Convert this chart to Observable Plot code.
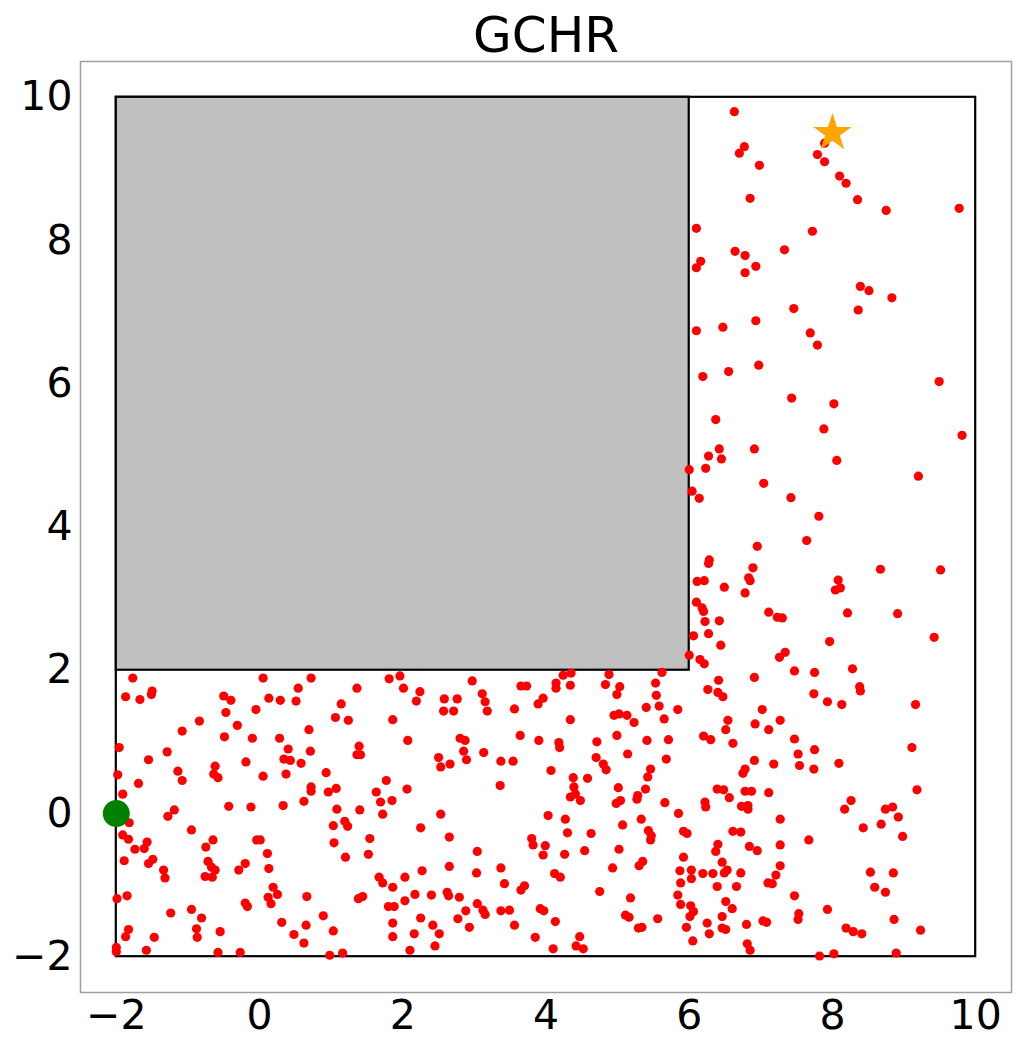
<!DOCTYPE html>
<html>
<head>
<meta charset="utf-8">
<script src="https://cdn.jsdelivr.net/npm/d3@7"></script>
<script src="https://cdn.jsdelivr.net/npm/@observablehq/plot@0.6"></script>
<style>
  html, body { margin: 0; padding: 0; background: white; }
</style>
</head>
<body>
<div id="chart"></div>
<script>
const title = "GCHR";
const tickValues = [-2, 0, 2, 4, 6, 8, 10];
const bounds = [{x1: -2, x2: 10, y1: -2, y2: 10}];
const obstacle = [{x1: -2, x2: 6, y1: 2, y2: 10}];
const start = [{x: -2, y: 0}];
const goal = [{x: 8, y: 9.5}];

const sampleX = [
  6.63,6.77,6.70,6.98,7.89,7.79,7.89,8.10,8.19,8.35,
  8.75,9.77,6.85,6.10,7.72,6.64,6.78,7.33,6.16,6.10,
  6.93,6.78,8.39,8.51,8.83,7.46,8.36,6.10,6.47,6.93,
  7.69,7.79,6.19,6.55,6.97,9.49,
  7.43,8.02,6.37,7.88,9.81,6.42,6.91,6.27,6.45,8.06,
  6.00,6.23,7.04,9.20,6.04,6.14,7.42,7.81,7.64,6.95,
  6.28,6.27,6.89,8.67,9.51,6.11,6.21,6.83,6.85,6.49,
  8.08,8.11,8.04,6.78,6.10,6.18,6.20,7.11,7.23,7.30,
  8.21,8.91,6.22,6.42,6.06,6.27,9.42,6.44,7.96,6.00,
  6.15,6.21,7.34,7.26,7.47,7.75,8.28,
  -1.77,0.05,0.72,0.54,-1.87,-1.67,-1.50,-1.51,-0.50,-0.40,
  0.13,0.29,0.51,-0.05,-0.47,-0.84,-0.31,-1.08,0.69,-0.49,
  -0.10,0.28,-1.96,0.40,-1.29,0.71,-1.55,0.34,0.43,0.58,
  -0.19,-0.62,-1.14,-1.98,-0.64,-0.58,-1.08,0.05,0.37,0.93,
  -1.69,0.72,0.72,0.96,1.07,-1.91,0.62,-0.43,-0.12,0.33,
  -1.19,-1.28,1.08,
  -1.82,-1.91,-1.83,-1.74,-1.61,-1.57,-1.89,-1.55,-1.49,-1.34,
  -1.32,-0.95,-0.65,-0.75,-0.72,-0.67,-0.62,-0.76,-0.66,-0.04,
  0.01,0.11,-0.20,-0.29,0.13,1.03,1.04,-1.99,-1.85,0.19,
  0.25,0.12,0.16,0.66,-0.20,-0.17,-1.24,-0.95,-0.81,0.89,
  0.31,0.65,-1.83,-1.87,-1.47,-0.88,-0.87,-0.55,0.48,0.62,
  1.03,-2.00,-2.00,-1.58,-0.58,-0.27,0.98,
  1.81,1.96,2.01,1.36,2.24,2.19,1.14,1.06,1.24,1.86,
  2.97,3.65,3.73,3.11,3.15,3.18,2.58,2.76,2.57,2.71,
  3.56,3.89,3.96,2.07,1.39,1.36,1.41,2.80,2.87,2.85,
  2.89,3.13,2.50,2.53,2.66,3.37,3.54,3.64,3.90,4.07,
  1.77,1.63,1.69,1.85,2.06,3.36,1.40,1.72,2.53,4.03,
  1.19,1.23,1.54,1.52,1.20,2.25,2.65,3.04,3.80,3.82,
  3.99,3.96,2.65,2.27,3.03,3.37,3.42,4.12,1.67,1.72,
  1.86,2.03,1.38,1.44,2.17,2.40,2.03,2.62,2.64,2.79,
  3.70,3.65,1.80,1.88,3.04,3.12,3.15,2.88,2.77,2.93,
  2.25,2.42,2.51,2.45,2.16,2.10,1.86,1.86,3.37,3.49,
  3.56,3.92,3.97,3.85,4.13,4.10,1.16,
  4.24,4.35,4.14,4.14,4.34,4.88,4.83,5.03,4.99,5.62,
  5.53,5.54,5.40,5.58,5.84,5.65,4.34,4.95,5.02,5.13,
  5.23,4.99,5.41,5.71,4.71,4.18,4.19,5.14,4.70,4.80,
  4.84,5.68,5.46,5.42,4.38,4.58,4.39,4.41,4.34,4.48,
  5.01,5.39,5.28,5.27,5.04,4.98,5.66,5.85,6.26,6.41,
  6.40,6.47,6.91,6.54,6.51,6.92,7.02,7.11,6.20,6.30,
  6.61,6.91,6.78,6.75,7.18,6.39,6.48,6.56,6.78,6.87,
  7.11,6.22,6.23,6.73,6.82,6.82,
  8.38,8.39,7.74,7.93,8.13,9.16,7.27,7.47,7.75,7.52,
  7.54,7.74,8.09,9.11,9.18,8.26,8.17,8.74,8.84,8.92,
  7.27,8.43,8.68,8.98,7.27,7.67,7.27,7.21,7.10,7.16,
  8.53,8.85,8.59,8.74,7.47,7.93,7.53,7.52,7.08,8.86,
  9.23,8.19,8.29,8.41,7.82,8.02,8.89,
  4.27,4.30,4.63,5.07,5.33,5.43,5.47,5.46,4.26,4.54,
  5.02,5.35,5.30,4.93,4.20,4.75,5.18,5.11,5.16,5.56,
  5.29,5.34,4.47,4.42,4.52,5.92,5.97,5.92,5.87,6.03,
  6.03,5.88,6.19,6.33,6.40,6.37,6.46,6.53,6.49,6.72,
  6.61,6.72,6.84,6.95,6.39,6.66,5.84,5.88,6.02,6.06,
  6.01,6.51,6.60,6.46,6.25,5.96,6.46,6.51,6.28,6.05,
  6.80,7.03,6.81,6.85
];

const sampleY = [
  9.80,9.31,9.22,9.05,9.36,9.20,9.10,8.90,8.80,8.57,
  8.42,8.45,8.59,8.17,8.13,7.85,7.79,7.87,7.71,7.62,
  7.64,7.55,7.36,7.30,7.20,7.05,7.03,6.74,6.79,6.88,
  6.71,6.54,6.10,6.17,6.26,6.03,
  5.80,5.72,5.50,5.37,5.28,5.09,5.09,4.99,4.95,4.93,
  4.80,4.82,4.61,4.71,4.50,4.40,4.41,4.15,3.81,3.73,
  3.54,3.49,3.43,3.41,3.40,3.24,3.25,3.29,3.25,3.16,
  3.26,3.15,3.12,3.08,2.95,2.87,2.82,2.81,2.74,2.73,
  2.80,2.79,2.68,2.69,2.48,2.51,2.46,2.35,2.40,2.21,
  2.15,2.09,2.25,2.18,1.99,1.97,2.02,
  1.89,1.89,1.89,1.75,1.63,1.59,1.71,1.66,1.64,1.58,
  1.61,1.58,1.57,1.45,1.41,1.29,1.23,1.15,1.17,1.07,
  1.05,1.05,0.92,0.90,0.86,0.87,0.75,0.76,0.74,0.70,
  0.72,0.66,0.59,0.54,0.55,0.50,0.46,0.52,0.55,0.57,
  0.42,0.37,0.31,0.30,0.35,0.27,0.17,0.10,0.09,0.11,
  0.05,-0.04,0.06,
  -0.13,-0.30,-0.36,-0.50,-0.49,-0.40,-0.66,-0.70,-0.64,-0.79,
  -0.90,-0.23,-0.37,-0.47,-0.67,-0.75,-0.79,-0.88,-0.89,-0.37,
  -0.37,-0.56,-0.70,-0.79,-0.77,-0.17,-0.41,-1.19,-1.15,-1.03,
  -1.13,-1.17,-1.26,-1.16,-1.25,-1.30,-1.39,-1.34,-1.46,-1.43,
  -1.52,-1.56,-1.62,-1.72,-1.73,-1.61,-1.73,-1.65,-1.69,-1.81,
  -1.64,-1.87,-1.93,-1.91,-1.94,-1.94,-1.98,
  1.88,1.92,1.75,1.75,1.70,1.57,1.53,1.34,1.30,1.31,
  1.85,1.78,1.78,1.67,1.56,1.43,1.60,1.60,1.43,1.43,
  1.46,1.53,1.61,1.02,0.94,0.82,0.82,1.05,1.02,0.87,
  0.75,0.85,0.78,0.65,0.69,0.73,0.73,1.09,1.02,0.60,
  0.46,0.30,0.16,0.18,0.34,0.39,0.05,-0.01,-0.01,-0.03,
  -0.11,-0.18,-0.35,-0.57,-0.61,-0.20,-0.33,-0.53,-0.35,-0.44,
  -0.45,-0.58,-0.74,-0.80,-0.83,-0.76,-0.98,-0.84,-0.89,-0.97,
  -1.03,-0.89,-1.19,-1.16,-1.13,-1.14,-1.22,-1.10,-1.15,-1.17,
  -1.01,-1.07,-1.30,-1.30,-1.26,-1.35,-1.41,-1.36,-1.47,-1.59,
  -1.46,-1.56,-1.68,-1.85,-1.68,-1.91,-1.53,-1.72,-1.36,-1.35,
  -1.56,-1.33,-1.36,-1.73,-1.51,-1.89,-1.95,
  1.93,1.96,1.82,1.75,1.79,1.94,1.80,1.77,1.66,1.97,
  1.82,1.65,1.48,1.50,1.45,1.32,1.31,1.37,1.39,1.37,
  1.27,1.09,1.02,1.03,1.00,0.99,0.92,0.83,0.78,0.69,
  0.61,0.76,0.62,0.51,0.50,0.49,0.37,0.27,0.23,0.18,
  0.36,0.34,0.25,0.20,0.18,0.14,0.15,0.00,1.73,1.86,
  1.69,1.63,1.90,1.30,1.17,1.25,1.45,1.17,1.08,1.03,
  0.98,0.74,0.62,0.56,0.69,0.34,0.33,0.22,0.31,0.31,
  0.29,0.16,0.09,0.10,0.11,0.06,
  1.77,1.71,1.67,1.56,1.52,1.52,1.30,1.04,0.89,0.83,
  0.67,0.62,0.70,0.92,0.33,0.18,0.06,0.06,0.09,-0.05,
  -0.08,-0.20,-0.15,-0.32,-0.44,-0.37,-0.73,-0.86,-0.97,-0.98,
  -0.82,-0.83,-1.03,-1.10,-1.15,-1.34,-1.40,-1.48,-1.52,-1.48,
  -1.63,-1.60,-1.65,-1.68,-1.99,-1.96,-1.95,
  -0.08,-0.27,-0.28,-0.16,-0.08,-0.24,-0.31,-0.37,-0.57,-0.52,
  -0.50,-0.67,-0.73,-0.76,-0.89,-1.09,-1.18,-1.42,-1.45,-1.47,
  -1.60,-1.59,-1.72,-1.85,-1.89,-0.25,-0.28,-0.61,-0.80,-0.79,
  -0.91,-0.97,-0.84,-0.84,-0.43,-0.53,-0.68,-0.79,-0.83,-0.83,
  -0.25,-0.26,-0.46,-0.52,-1.02,-1.02,-1.14,-1.27,-1.29,-1.37,
  -1.44,-1.23,-1.33,-1.44,-1.53,-1.59,-1.60,-1.62,-1.68,-1.78,
  -1.55,-1.50,-1.82,-1.91
];

const samples = sampleX.map((x, i) => ({x, y: sampleY[i]}));
const fmt = d3.format("d");

const chart = Plot.plot({
  width: 1023,
  height: 1051,
  marginLeft: 80,
  marginRight: 12,
  marginTop: 61,
  marginBottom: 59,
  style: {fontFamily: "DejaVu Sans", fontSize: "41px", color: "black", background: "white"},
  x: {domain: [-2.5, 10.5], ticks: tickValues, tickSize: 0, tickPadding: 7, tickFormat: fmt, label: null},
  y: {domain: [-2.5, 10.5], ticks: tickValues, tickSize: 0, tickPadding: 8, tickFormat: fmt, label: null},
  marks: [
    Plot.frame({stroke: "#a0a0a0", strokeWidth: 1.5}),
    Plot.rect(bounds, {x1: "x1", x2: "x2", y1: "y1", y2: "y2", fill: "white", stroke: "black", strokeWidth: 2.2}),
    Plot.rect(obstacle, {x1: "x1", x2: "x2", y1: "y1", y2: "y2", fill: "#c0c0c0", stroke: "black", strokeWidth: 2.2}),
    Plot.dot(samples, {x: "x", y: "y", r: 4.6, fill: "red", stroke: "none"}),
    Plot.dot(start, {x: "x", y: "y", r: 13.5, fill: "green", stroke: "none"}),
    Plot.dot(goal, {x: "x", y: "y", r: 12, symbol: "star", fill: "orange", stroke: "none"}),
    Plot.text([title], {frameAnchor: "top", lineAnchor: "middle", dy: -26, fontSize: 50, fill: "black"})
  ]
});
document.getElementById("chart").appendChild(chart);
</script>
</body>
</html>
